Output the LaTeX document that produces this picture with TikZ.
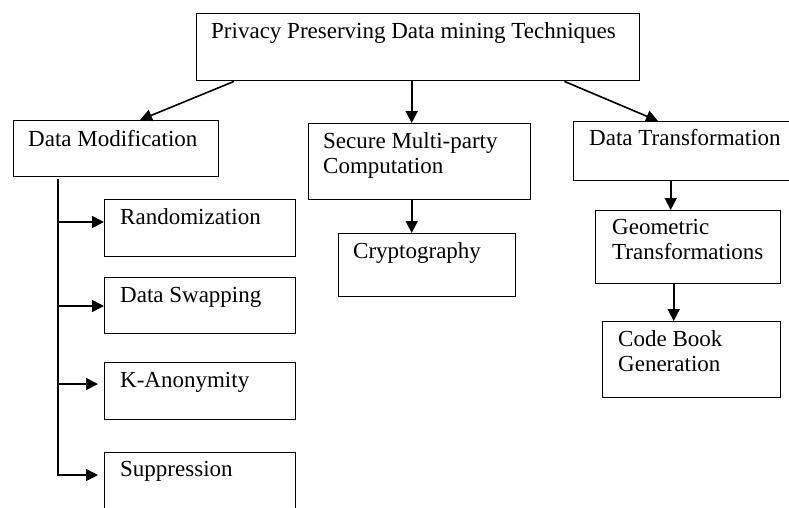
\documentclass[tikz,border=0pt]{standalone}
\usepackage{fontspec}
\setmainfont{Liberation Serif}
\usetikzlibrary{arrows.meta}
\tikzset{
  box/.style={draw, line width=1.4pt, anchor=north west, inner sep=0pt},
  txt/.style={anchor=base west, inner sep=0pt, align=left, font=\fontsize{23}{25.5}\selectfont},
  arr/.style={line width=1.6pt, -{Triangle[length=12pt,width=12pt]}}
}
\begin{document}
\begin{tikzpicture}[x=1pt, y=-1pt]
  \useasboundingbox (0,0) rectangle (789,507);

  % boxes
  \node[box, minimum width=443, minimum height=67] (ppdm) at (196,13) {};
  \node[box, minimum width=205, minimum height=56] (dm) at (13,120) {};
  \node[box, minimum width=222, minimum height=76] (smc) at (308,123) {};
  \node[box, minimum width=222, minimum height=59] (dt) at (573,121) {};
  \node[box, minimum width=191, minimum height=57] (rand) at (104,199) {};
  \node[box, minimum width=191, minimum height=56] (swap) at (104,277) {};
  \node[box, minimum width=191, minimum height=57] (kanon) at (104,362) {};
  \node[box, minimum width=191, minimum height=80] (supp) at (104,452) {};
  \node[box, minimum width=177, minimum height=63] (crypt) at (338,233) {};
  \node[box, minimum width=185, minimum height=73] (geo) at (595,210) {};
  \node[box, minimum width=178, minimum height=76] (cbg) at (602,321) {};

  % texts (two-line texts sit on their last baseline)
  \node[txt] (ppdm-t) at (211,38) {Privacy Preserving Data mining Techniques};
  \node[txt] (dm-t) at (28,146) {Data Modification};
  \node[txt] (smc-t) at (323,173.5) {Secure Multi-party\\Computation};
  \node[txt] (dt-t) at (589,145) {Data Transformation};
  \node[txt] (rand-t) at (120,224) {Randomization};
  \node[txt] (swap-t) at (120,302) {Data Swapping};
  \node[txt] (kanon-t) at (120,387) {K-Anonymity};
  \node[txt] (supp-t) at (120,476) {Suppression};
  \node[txt] (crypt-t) at (353,258) {Cryptography};
  \node[txt] (geo-t) at (612,259.5) {Geometric\\Transformations};
  \node[txt] (cbg-t) at (618,371.5) {Code Book\\Generation};

  % connectors
  \draw[arr] ([xshift=38pt]ppdm.south west) -- ([xshift=127pt]dm.north west);
  \draw[arr] ([xshift=-6.5pt]ppdm.south) -- ([xshift=-8pt]smc.north);
  \draw[arr] ([xshift=-76pt]ppdm.south east) -- ([xshift=85pt]dt.north west);

  \draw[arr] ([xshift=45pt, yshift=-2pt]dm.south west) |- ([xshift=-6pt, yshift=-23pt]supp.north west);
  \draw[arr] ([xshift=-46pt, yshift=-23pt]rand.north west) -- ([yshift=-23pt]rand.north west);
  \draw[arr] ([xshift=-46pt, yshift=-29pt]swap.north west) -- ([yshift=-29pt]swap.north west);
  \draw[arr] ([xshift=-46pt, yshift=-22pt]kanon.north west) -- ([xshift=-6pt, yshift=-22pt]kanon.north west);

  \draw[arr] ([xshift=-8pt]smc.south) -- ([xshift=-15.5pt]crypt.north);
  \draw[arr] ([xshift=-14pt]dt.south) -- ([xshift=-17.5pt]geo.north);
  \draw[arr] ([xshift=-14.5pt]geo.south) -- ([xshift=-18pt]cbg.north);
\end{tikzpicture}
\end{document}
